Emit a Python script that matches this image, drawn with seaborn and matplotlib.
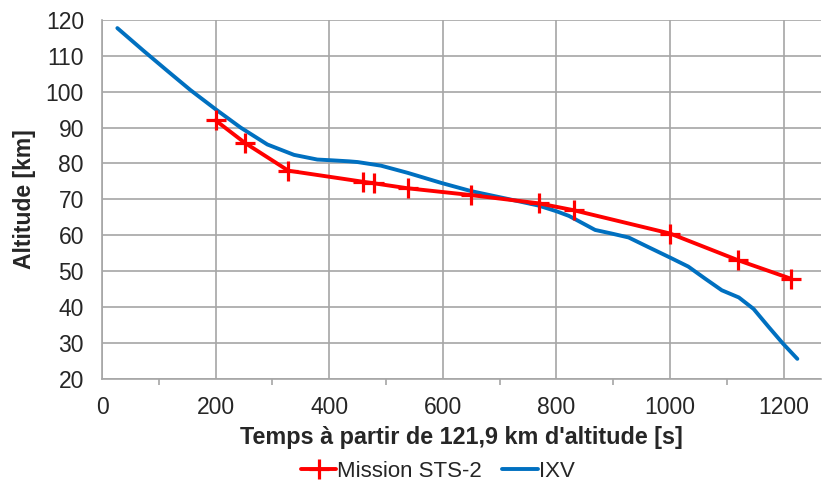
import matplotlib
matplotlib.use("Agg")
import matplotlib.pyplot as plt
from matplotlib.ticker import MultipleLocator
import seaborn as sns
import pandas as pd

# Data
sts2_time = [200, 251, 328, 460, 478, 538, 650, 769, 830, 1000, 1119, 1213]
sts2_alt = [92.0, 85.8, 78.0, 74.9, 74.5, 73.1, 71.2, 68.9, 67.0, 60.5, 53.1, 47.9]

ixv_time = [27, 73, 115, 156, 200, 244, 291, 338, 379, 403, 435, 450, 491, 538,
            597, 650, 724, 768, 800, 822, 841, 868, 897, 927, 962, 1000, 1032,
            1062, 1091, 1121, 1147, 1174, 1199, 1224]
ixv_alt = [117.7, 111.4, 105.8, 100.4, 95.1, 90.0, 85.3, 82.4, 81.1, 80.9,
           80.6, 80.4, 79.4, 77.4, 74.6, 72.3, 69.8, 68.3, 66.7, 65.4, 63.8,
           61.5, 60.5, 59.4, 56.7, 53.8, 51.3, 47.9, 44.7, 42.7, 39.5, 34.4,
           29.8, 25.6]

df_sts = pd.DataFrame({"t": sts2_time, "alt": sts2_alt})
df_ixv = pd.DataFrame({"t": ixv_time, "alt": ixv_alt})

sns.set_style("white")
plt.rcParams["font.family"] = ["Liberation Sans", "DejaVu Sans"]

fig = plt.figure(figsize=(8.26, 4.84), dpi=100)
ax = fig.add_axes([0.1235, 0.217, 0.87, 0.742])

grid_col = "#a6a6a6"

sns.lineplot(data=df_sts, x="t", y="alt", ax=ax, color="#ff0000", lw=2.8,
             marker="+", markersize=15, markeredgewidth=2.3,
             markeredgecolor="#ff0000", label="Mission STS-2", zorder=3,
             solid_joinstyle="round")
sns.lineplot(data=df_ixv, x="t", y="alt", ax=ax, color="#0070c0", lw=2.8,
             label="IXV", zorder=2, solid_joinstyle="round",
             solid_capstyle="round")

ax.set_xlim(0, 1265)
ax.set_ylim(20, 120)
ax.xaxis.set_major_locator(MultipleLocator(200))
ax.xaxis.set_minor_locator(MultipleLocator(100))
ax.yaxis.set_major_locator(MultipleLocator(10))

ax.grid(True, which="major", color=grid_col, lw=1.2)
ax.set_axisbelow(True)
for s in ["top", "right"]:
    ax.spines[s].set_visible(False)
for s in ["left", "bottom"]:
    ax.spines[s].set_color(grid_col)
    ax.spines[s].set_linewidth(1.2)

ax.tick_params(axis="both", which="major", direction="out", length=6,
               color=grid_col, width=1.2, labelsize=16.5, pad=7)
ax.tick_params(axis="x", which="minor", direction="out", length=4,
               color=grid_col, width=1.2, bottom=True)
ax.tick_params(axis="x", pad=6)

ax.set_xlabel("Temps à partir de 121,9 km d'altitude [s]", fontsize=16.8,
              fontweight="bold", labelpad=5)
ax.set_ylabel("Altitude [km]", fontsize=16.5, fontweight="bold", labelpad=7)

leg = ax.legend(loc="center", bbox_to_anchor=(0.53, 0.026),
                bbox_transform=fig.transFigure, ncol=2, frameon=False,
                fontsize=16, handlelength=1.6, handletextpad=0.05,
                columnspacing=0.9, borderpad=0.1)

fig.savefig("out.png", dpi=100)
